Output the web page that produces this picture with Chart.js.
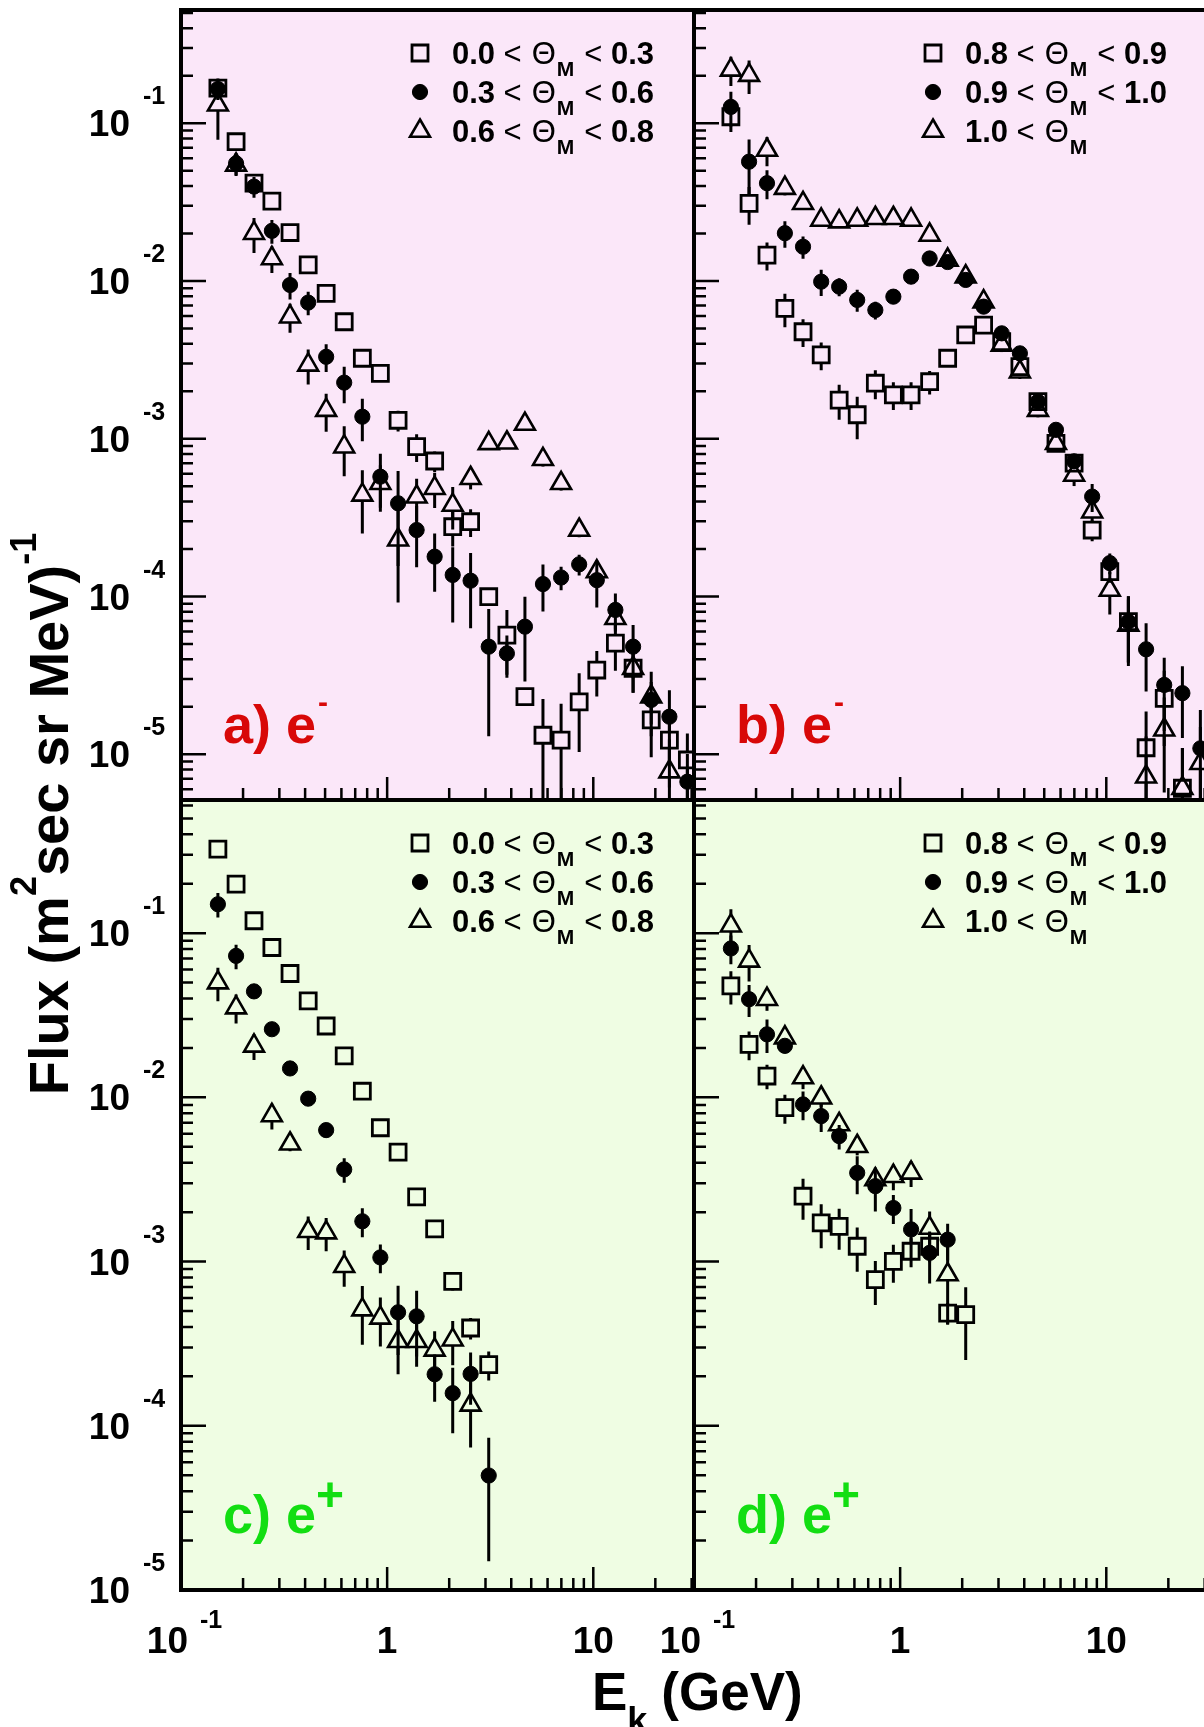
<!DOCTYPE html>
<html>
<head>
<meta charset="utf-8">
<title>Electron and positron flux</title>
<script src="https://cdn.jsdelivr.net/npm/chart.js@4.4.1/dist/chart.umd.min.js"></script>
<style>
  html, body { margin: 0; padding: 0; background: #fff; }
  #fig { position: relative; width: 1204px; height: 1727px; overflow: hidden; }
  #fig canvas { position: absolute; left: 0; top: 0; }
</style>
</head>
<body>
<div id="fig">
  <canvas id="panel_a" width="1210" height="1727"></canvas>
  <canvas id="panel_b" width="1210" height="1727"></canvas>
  <canvas id="panel_c" width="1210" height="1727"></canvas>
  <canvas id="panel_d" width="1210" height="1727"></canvas>
</div>
<script>
// kinetic energy bin centres (GeV), shared by all panels
const energyGeV = [0.151, 0.185, 0.226, 0.276, 0.338, 0.414, 0.506, 0.619, 0.758, 0.927,
  1.13, 1.39, 1.70, 2.08, 2.54, 3.11, 3.81, 4.66, 5.70, 6.98, 8.54, 10.4, 12.8, 15.6, 19.1, 23.4, 28.6];

// a) electrons, 0.0-0.3 / 0.3-0.6 / 0.6-0.8
const aSquare = [0.167, 0.0764, 0.0417, 0.0321, 0.0203, 0.01265, 0.00836, 0.00552, 0.00324, 0.00260,
  0.00131, 0.000891, 0.000723, 0.000277, 0.000298, 9.97e-5, 5.70e-5, 2.32e-5, 1.32e-5, 1.23e-5,
  2.15e-5, 3.42e-5, 5.06e-5, 3.51e-5, 1.65e-5, 1.23e-5, 9.2e-6];
const aSquareErr = [0.15, 0.08, 0.1, 0.08, 0.08, 0.08, 0.08, 0.08, 0.1, 0.1, 0.15, 0.2, 0.15, 0.25, 0.2,
  0.12, 0.44, 0.12, 0.7, 0.7, 0.52, 0.32, 0.33, 0.3, 0.42, 0.5, 0.47];
const aCircle = [0.165, 0.0557, 0.0397, 0.0208, 0.00944, 0.00730, 0.00331, 0.00227, 0.00138, 0.000575,
  0.000390, 0.000264, 0.000179, 0.000137, 0.000126, 4.81e-5, 4.36e-5, 6.44e-5, 1.20e-4, 1.32e-4,
  1.60e-4, 1.27e-4, 8.22e-5, 4.81e-5, 2.21e-5, 1.73e-5, 6.7e-6];
const aCircleErr = [0.15, 0.16, 0.15, 0.17, 0.19, 0.17, 0.2, 0.26, 0.3, 0.4, 0.6, 0.42, 0.4, 0.5, 0.5,
  0.73, 0.3, 0.55, 0.33, 0.17, 0.15, 0.33, 0.27, 0.37, 0.3, 0.47, 0.5];
const aTriangle = [0.131, 0.0545, 0.0201, 0.0139, 0.00594, 0.00294, 0.00152, 0.000891, 0.000441, 0.000522,
  0.000229, 0.000429, 0.000486, 0.000380, 0.000562, 0.000935, 0.000944, 0.00124, 0.000741, 0.000522,
  0.000264, 0.000144, 7.28e-5, 3.51e-5, 2.32e-5, 7.76e-6, null];
const aTriangleErr = [0.4, 0.15, 0.25, 0.19, 0.21, 0.25, 0.27, 0.35, 0.43, 0.3, 0.6, 0.3, 0.25, 0.3, 0.15,
  0.08, 0.08, 0.08, 0.1, 0.1, 0.1, 0.1, 0.15, 0.3, 0.44, 0.6, null];

// b) electrons, 0.8-0.9 / 0.9-1.0 / >1.0
const bSquare = [0.110, 0.0311, 0.0146, 0.00671, 0.00477, 0.00340, 0.00176, 0.00142, 0.00225, 0.00190,
  0.00190, 0.00230, 0.00324, 0.00455, 0.00526, 0.00413, 0.00287, 0.00172, 0.000936, 0.000700,
  0.000264, 0.000144, 6.93e-5, 1.1e-5, 2.26e-5, 6.09e-6, null];
const bSquareErr = [0.2, 0.27, 0.2, 0.24, 0.2, 0.2, 0.25, 0.3, 0.21, 0.2, 0.2, 0.17, 0.12, 0.08, 0.08,
  0.08, 0.08, 0.08, 0.1, 0.1, 0.15, 0.15, 0.45, 0.7, 0.5, 0.8, null];
const bCircle = [0.127, 0.0571, 0.0417, 0.0201, 0.0165, 0.00991, 0.00921, 0.00759, 0.00655, 0.00796,
  0.01066, 0.0139, 0.0132, 0.01016, 0.00688, 0.00466, 0.00348, 0.00172, 0.00114, 0.00072,
  0.000430, 0.000163, 6.93e-5, 4.63e-5, 2.75e-5, 2.44e-5, 1.09e-5];
const bCircleErr = [0.25, 0.38, 0.21, 0.19, 0.16, 0.19, 0.13, 0.16, 0.13, 0.1, 0.08, 0.08, 0.08, 0.08,
  0.08, 0.08, 0.08, 0.1, 0.1, 0.1, 0.2, 0.15, 0.45, 0.46, 0.49, 0.48, 0.75];
const bTriangle = [0.218, 0.202, 0.0677, 0.0388, 0.0311, 0.0244, 0.0238, 0.0244, 0.0250, 0.0250,
  0.0244, 0.0196, 0.0136, 0.01066, 0.00740, 0.00394, 0.00266, 0.00152, 0.000936, 0.000590,
  0.000345, 0.000110, 6.6e-5, 7.2e-6, 1.43e-5, 6.09e-6, 8.77e-6];
const bTriangleErr = [0.21, 0.24, 0.21, 0.1, 0.08, 0.08, 0.08, 0.08, 0.08, 0.08, 0.08, 0.08, 0.08, 0.08,
  0.08, 0.1, 0.1, 0.1, 0.1, 0.15, 0.15, 0.3, 0.45, 0.8, 0.6, 0.8, 0.7];

// c) positrons, 0.0-0.3 / 0.3-0.6 / 0.6-0.8
const cSquare = [0.325, 0.199, 0.119, 0.0818, 0.0568, 0.0387, 0.0272, 0.0179, 0.0109, 0.00653,
  0.00464, 0.00248, 0.00158, 0.000758, 0.000394, 0.000236];
const cSquareErr = [0.08, 0.08, 0.08, 0.08, 0.08, 0.08, 0.08, 0.08, 0.08, 0.08, 0.08, 0.08, 0.1, 0.12, 0.15, 0.2];
const cCircle = [0.150, 0.0727, 0.0442, 0.0260, 0.0150, 0.00982, 0.00632, 0.00364, 0.00176, 0.00106,
  0.000491, 0.000464, 0.000206, 0.000158, 0.000207, 4.98e-5];
const cCircleErr = [0.17, 0.17, 0.1, 0.08, 0.08, 0.08, 0.1, 0.17, 0.2, 0.2, 0.45, 0.43, 0.32, 0.43, 0.35, 0.7];
const cTriangle = [0.0500, 0.0352, 0.0206, 0.00776, 0.00522, 0.00153, 0.00150, 0.000936, 0.000510,
  0.000454, 0.000327, 0.000327, 0.000290, 0.000334, 0.000134];
const cTriangleErr = [0.23, 0.2, 0.18, 0.18, 0.1, 0.23, 0.23, 0.25, 0.39, 0.33, 0.37, 0.3, 0.3, 0.3, 0.45];

// d) positrons, 0.8-0.9 / 0.9-1.0 / >1.0
const dSquare = [0.0477, 0.0210, 0.01349, 0.00865, 0.00250, 0.00172, 0.00164, 0.00124, 0.000776,
  0.001004, 0.001156, 0.00124, 0.000486, 0.000475];
const dSquareErr = [0.23, 0.2, 0.17, 0.2, 0.28, 0.3, 0.28, 0.3, 0.3, 0.26, 0.2, 0.2, 0.15, 0.47];
const dCircle = [0.0807, 0.0396, 0.0242, 0.0206, 0.00906, 0.00769, 0.00581, 0.00347, 0.00288,
  0.00212, 0.00157, 0.00113, 0.00136];
const dCircleErr = [0.2, 0.22, 0.23, 0.1, 0.2, 0.2, 0.17, 0.26, 0.3, 0.2, 0.33, 0.35, 0.25];
const dTriangle = [0.111, 0.0678, 0.0396, 0.0231, 0.0132, 0.00995, 0.00684, 0.00504, 0.00316,
  0.00331, 0.00347, 0.00160, 0.000834];
const dTriangleErr = [0.26, 0.25, 0.15, 0.15, 0.15, 0.12, 0.12, 0.12, 0.1, 0.18, 0.18, 0.26, 0.5];

// legend and axis text
const thetaLowLeft = ["0.0", "0.3", "0.6"];
const thetaHighLeft = ["0.3", "0.6", "0.8"];
const thetaLowRight = ["0.8", "0.9", "1.0"];
const thetaHighRight = ["0.9", "1.0", null];
const yExponents = [-1, -2, -3, -4, -5];
const xTickValues = [0.1, 1, 10];
const xTickText = ["10", "1", "10"];
const xTickExp = ["-1", null, null];

const W = 1210, H = 1727;
const FONT = "'Liberation Sans', Arial, Helvetica, sans-serif";
const PINK = '#fbe7f9', GREEN = '#effde3';
const RED = '#d80808', LIME = '#12de12';

const markerStyles = [
  { pointStyle: 'rect', radius: 11.3, border: 2.8, fill: 'rgba(0,0,0,0)', gapUp: 8.5, gapDown: 8.5 },
  { pointStyle: 'circle', radius: 7.6, border: 1, fill: '#000', gapUp: 7, gapDown: 7 },
  { pointStyle: 'triangle', radius: 11.5, border: 2.6, fill: 'rgba(0,0,0,0)', gapUp: 11, gapDown: 6 },
];

function buildDatasets(list) {
  return list.map(([values, errors], k) => {
    const m = markerStyles[k];
    const pts = [];
    values.forEach((v, i) => {
      if (v !== null) pts.push({ x: energyGeV[i], y: v, err: errors[i] });
    });
    return {
      data: pts,
      pointStyle: m.pointStyle,
      pointRadius: m.radius,
      pointHoverRadius: m.radius,
      pointBorderWidth: m.border,
      pointBorderColor: '#000',
      pointBackgroundColor: m.fill,
      showLine: false,
      clip: 0,
      gapUp: m.gapUp,
      gapDown: m.gapDown,
    };
  });
}

function drawMarker(ctx, m, x, y) {
  ctx.save();
  ctx.lineWidth = m.border;
  ctx.strokeStyle = '#000';
  ctx.fillStyle = m.fill;
  ctx.beginPath();
  if (m.pointStyle === 'rect') {
    const s = m.radius * Math.SQRT1_2;
    ctx.rect(x - s, y - s, 2 * s, 2 * s);
  } else if (m.pointStyle === 'circle') {
    ctx.arc(x, y, m.radius, 0, Math.PI * 2);
  } else {
    const r = m.radius;
    ctx.moveTo(x, y - r);
    ctx.lineTo(x + 0.866 * r, y + 0.5 * r);
    ctx.lineTo(x - 0.866 * r, y + 0.5 * r);
    ctx.closePath();
  }
  ctx.fill();
  ctx.stroke();
  ctx.restore();
}

function drawLegendRow(ctx, x, yc, lo, hi) {
  const base = yc + 10.5;
  let cx = x;
  ctx.fillStyle = '#000';
  ctx.textAlign = 'left';
  ctx.textBaseline = 'alphabetic';
  ctx.font = `bold 31px ${FONT}`;
  ctx.fillText(lo, cx, base);
  cx += ctx.measureText(lo).width + 8.5;
  ctx.font = `31px ${FONT}`;
  ctx.fillText('<', cx, base);
  cx += ctx.measureText('<').width + 10;
  ctx.fillText('Θ', cx, base);
  cx += ctx.measureText('Θ').width + 1;
  ctx.font = `bold 21px ${FONT}`;
  ctx.fillText('M', cx, base + 12);
  cx += ctx.measureText('M').width + 10;
  if (hi) {
    ctx.font = `31px ${FONT}`;
    ctx.fillText('<', cx, base);
    cx += ctx.measureText('<').width + 8.5;
    ctx.font = `bold 31px ${FONT}`;
    ctx.fillText(hi, cx, base);
  }
}

// vertical error bars, stopping at the marker outline
const errorBars = {
  id: 'errorBars',
  beforeDatasetsDraw(chart) {
    const { ctx, chartArea: a } = chart;
    const xs = chart.scales.x, ys = chart.scales.y;
    ctx.save();
    ctx.beginPath();
    ctx.rect(a.left, a.top, a.right - a.left, a.bottom - a.top);
    ctx.clip();
    ctx.strokeStyle = '#000';
    ctx.lineWidth = 3;
    chart.data.datasets.forEach(ds => {
      ds.data.forEach(p => {
        const x = xs.getPixelForValue(p.x);
        const y = ys.getPixelForValue(p.y);
        const yHi = ys.getPixelForValue(p.y * (1 + p.err));
        const lo = p.y * (1 - p.err);
        const yLo = lo > 0 ? ys.getPixelForValue(lo) : a.bottom + 5;
        ctx.beginPath();
        if (y - yHi > ds.gapUp) { ctx.moveTo(x, yHi); ctx.lineTo(x, y - ds.gapUp); }
        if (yLo - y > ds.gapDown) { ctx.moveTo(x, y + ds.gapDown); ctx.lineTo(x, yLo); }
        ctx.stroke();
      });
    });
    ctx.restore();
  }
};

// background, inward ticks, frame, labels, legend
const panelDecor = {
  id: 'panelDecor',
  beforeDraw(chart, args, o) {
    const { ctx, chartArea: a } = chart;
    ctx.save();
    ctx.fillStyle = o.bg;
    ctx.fillRect(a.left, a.top, a.right - a.left, a.bottom - a.top);
    ctx.restore();
  },
  afterDraw(chart, args, o) {
    const { ctx, chartArea: a } = chart;
    const xs = chart.scales.x, ys = chart.scales.y;
    ctx.save();
    ctx.strokeStyle = '#000';
    ctx.lineWidth = 2.5;
    ctx.beginPath();
    for (let d = -6; d <= 0; d++) {
      for (let k = 1; k <= 9; k++) {
        const v = k * Math.pow(10, d);
        if (v <= ys.min || v >= ys.max) continue;
        const y = ys.getPixelForValue(v);
        ctx.moveTo(a.left, y);
        ctx.lineTo(a.left + (k === 1 ? 25 : 12), y);
      }
    }
    for (let d = -1; d <= 1; d++) {
      for (let k = 1; k <= 9; k++) {
        const v = k * Math.pow(10, d);
        if (v <= xs.min || v >= xs.max) continue;
        const x = xs.getPixelForValue(v);
        ctx.moveTo(x, a.bottom);
        ctx.lineTo(x, a.bottom - (k === 1 ? 23 : 12));
      }
    }
    ctx.stroke();

    ctx.lineWidth = 4;
    ctx.strokeRect(a.left, a.top, a.right - a.left, a.bottom - a.top);

    ctx.fillStyle = '#000';
    ctx.textBaseline = 'alphabetic';
    if (o.yLabels) {
      yExponents.forEach(n => {
        const y = ys.getPixelForValue(Math.pow(10, n));
        ctx.font = `bold 37px ${FONT}`;
        ctx.textAlign = 'right';
        ctx.fillText('10', a.left - 51, y + 13);
        ctx.font = `bold 25px ${FONT}`;
        ctx.textAlign = 'left';
        ctx.fillText(String(n), a.left - 38, y - 19);
      });
    }
    if (o.xLabels) {
      xTickValues.forEach((v, i) => {
        const x = xs.getPixelForValue(v);
        ctx.font = `bold 37px ${FONT}`;
        if (xTickExp[i]) {
          ctx.textAlign = 'right';
          ctx.fillText(xTickText[i], x + 7, a.bottom + 63);
          ctx.font = `bold 25px ${FONT}`;
          ctx.textAlign = 'left';
          ctx.fillText(xTickExp[i], x + 19, a.bottom + 38);
        } else {
          ctx.textAlign = 'center';
          ctx.fillText(xTickText[i], x, a.bottom + 63);
        }
      });
    }

    // legend
    o.legendLow.forEach((lo, k) => {
      const yc = a.top + 43 + 39 * k;
      drawMarker(ctx, markerStyles[k], a.left + 239, yc);
      drawLegendRow(ctx, a.left + 271, yc, lo, o.legendHigh[k]);
    });

    // panel tag
    const tx = a.left + 42, tb = a.bottom - 57;
    ctx.fillStyle = o.tagColor;
    ctx.textAlign = 'left';
    ctx.font = `bold 54px ${FONT}`;
    ctx.fillText(o.tag, tx, tb);
    const w = ctx.measureText(o.tag).width;
    if (o.charge === '-') {
      ctx.font = `bold 30px ${FONT}`;
      ctx.fillText('-', tx + w + 2, tb - 31);
    } else {
      ctx.font = `bold 48px ${FONT}`;
      ctx.fillText('+', tx + w, tb - 22);
    }
    ctx.restore();
  }
};

// shared axis titles
const axisTitles = {
  id: 'axisTitles',
  afterDraw(chart) {
    const ctx = chart.ctx;
    ctx.save();
    ctx.fillStyle = '#000';
    ctx.textAlign = 'left';
    ctx.textBaseline = 'alphabetic';
    const parts = [
      { t: 'Flux (m', f: 56, dy: 0 },
      { t: '2', f: 36, dy: -32 },
      { t: 'sec sr MeV)', f: 56, dy: 0 },
      { t: '-1', f: 36, dy: -32 },
    ];
    let total = 0;
    parts.forEach(p => { ctx.font = `bold ${p.f}px ${FONT}`; p.w = ctx.measureText(p.t).width; total += p.w; });
    ctx.translate(68, 814);
    ctx.rotate(-Math.PI / 2);
    let cx = -total / 2;
    parts.forEach(p => {
      ctx.font = `bold ${p.f}px ${FONT}`;
      ctx.fillText(p.t, cx, p.dy);
      cx += p.w;
    });
    ctx.setTransform(1, 0, 0, 1, 0, 0);

    let x = 592;
    ctx.font = `bold 53px ${FONT}`;
    ctx.fillText('E', x, 1710);
    x += ctx.measureText('E').width;
    ctx.font = `bold 36px ${FONT}`;
    ctx.fillText('k', x, 1733);
    x += ctx.measureText('k').width + 14;
    ctx.font = `bold 53px ${FONT}`;
    ctx.fillText('(GeV)', x, 1710);
    ctx.restore();
  }
};

function makePanel(id, box, yMin, yMax, series, deco, extraPlugins) {
  return new Chart(document.getElementById(id), {
    type: 'scatter',
    data: { datasets: buildDatasets(series) },
    options: {
      responsive: false,
      animation: false,
      devicePixelRatio: 1,
      events: [],
      layout: {
        autoPadding: false,
        padding: { left: box[0], top: box[1], right: W - box[2], bottom: H - box[3] },
      },
      scales: {
        x: { type: 'logarithmic', min: 0.1, max: 30.8, display: false },
        y: { type: 'logarithmic', min: yMin, max: yMax, display: false },
      },
      plugins: {
        legend: { display: false },
        tooltip: { enabled: false },
        panelDecor: deco,
      },
    },
    plugins: [errorBars, panelDecor].concat(extraPlugins || []),
  });
}

makePanel('panel_a', [181, 10, 694, 800], 5.13e-6, 0.5226,
  [[aSquare, aSquareErr], [aCircle, aCircleErr], [aTriangle, aTriangleErr]],
  { bg: PINK, tag: 'a) e', charge: '-', tagColor: RED, legendLow: thetaLowLeft, legendHigh: thetaHighLeft, yLabels: true, xLabels: false });

makePanel('panel_b', [694, 10, 1207, 800], 5.13e-6, 0.5226,
  [[bSquare, bSquareErr], [bCircle, bCircleErr], [bTriangle, bTriangleErr]],
  { bg: PINK, tag: 'b) e', charge: '-', tagColor: RED, legendLow: thetaLowRight, legendHigh: thetaHighRight, yLabels: false, xLabels: false });

makePanel('panel_c', [181, 800, 694, 1590], 1e-5, 0.647,
  [[cSquare, cSquareErr], [cCircle, cCircleErr], [cTriangle, cTriangleErr]],
  { bg: GREEN, tag: 'c) e', charge: '+', tagColor: LIME, legendLow: thetaLowLeft, legendHigh: thetaHighLeft, yLabels: true, xLabels: true },
  [axisTitles]);

makePanel('panel_d', [694, 800, 1207, 1590], 1e-5, 0.647,
  [[dSquare, dSquareErr], [dCircle, dCircleErr], [dTriangle, dTriangleErr]],
  { bg: GREEN, tag: 'd) e', charge: '+', tagColor: LIME, legendLow: thetaLowRight, legendHigh: thetaHighRight, yLabels: false, xLabels: true });
</script>
</body>
</html>
